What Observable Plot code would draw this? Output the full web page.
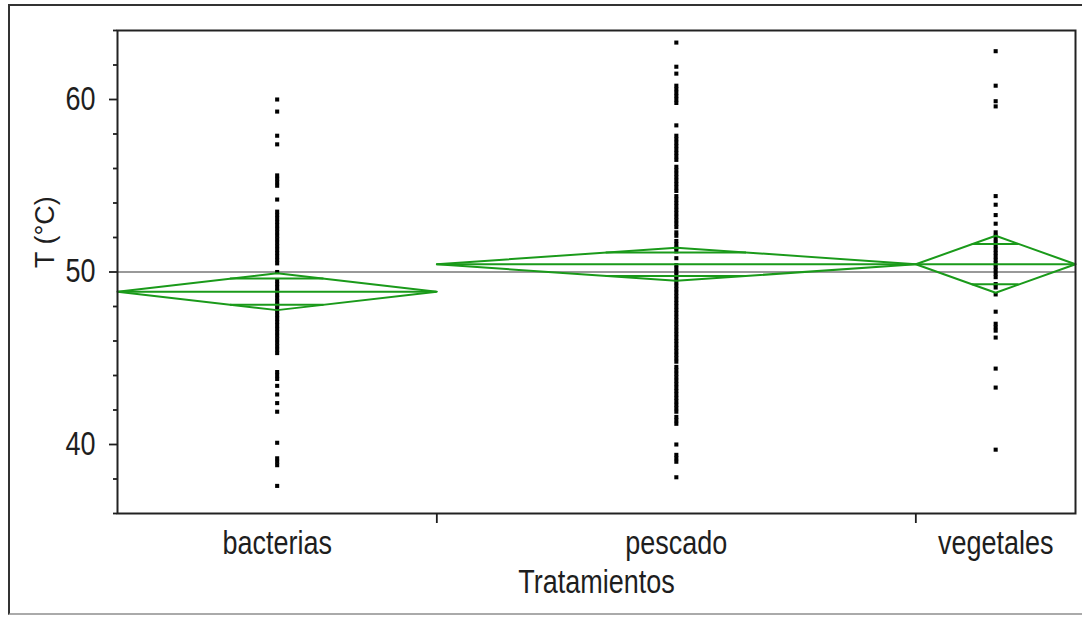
<!DOCTYPE html>
<html><head><meta charset="utf-8">
<script src="https://cdn.jsdelivr.net/npm/d3@7"></script>
<script src="https://cdn.jsdelivr.net/npm/@observablehq/plot@0.6"></script>
<style>
body{margin:0;background:#fff;}
#wrap{position:relative;width:1082px;height:618px;overflow:hidden;}
#border{position:absolute;left:8px;top:4px;width:1074px;height:611px;border-left:2px solid #333;border-top:2px solid #333;border-bottom:2px solid #aaa;box-sizing:border-box;pointer-events:none;}
#wrap svg{position:absolute;left:0;top:0;}
</style></head><body><div id="wrap"><div id="border"></div></div>
<script>
const categories = ["bacterias", "pescado", "vegetales"];
const sampleSize = [60, 90, 30];
const groupMean = [48.86, 50.45, 50.45];
const ciHalf = [1.07, 0.96, 1.65];
const grandMean = 50;
const yMajorTicks = [40, 50, 60];
const yMinorTicks = [36, 38, 42, 44, 46, 48, 52, 54, 56, 58, 62, 64];
const xLabel = "Tratamientos";
const yLabel = "T (°C)";

const bacterias = [60.0, 59.3, 57.9, 57.4, 55.6, 55.4, 55.2, 55.0, 54.2,
  53.5, 53.3, 53.1, 52.9, 52.7, 52.5, 52.3, 52.1, 51.9, 51.7, 51.5, 51.3, 51.1, 50.9, 50.7, 50.5,
  50.0,
  49.5, 49.3, 49.1, 48.9, 48.7, 48.5, 48.3, 48.1, 47.9, 47.7, 47.5, 47.3, 47.1, 46.9, 46.7, 46.5, 46.3, 46.1, 45.9, 45.7, 45.5, 45.3,
  44.2, 44.0, 43.8, 43.4, 42.9, 42.4, 41.9, 40.1, 39.2, 39.0, 38.8, 37.6];

const pescado = [63.3, 61.9, 61.5,
  60.8, 60.6, 60.4, 60.2, 60.0, 59.8,
  58.5,
  57.9, 57.7, 57.5, 57.3, 57.1, 56.9, 56.7, 56.5,
  56.1, 55.9, 55.7, 55.5, 55.3, 55.1, 54.9, 54.7,
  54.4, 54.2, 54.0, 53.8, 53.6, 53.4, 53.2, 53.0, 52.8, 52.6,
  52.3, 52.1,
  51.8, 51.6, 51.4, 51.2,
  50.8,
  50.4, 50.2, 50.0, 49.8, 49.6, 49.4, 49.2, 49.0, 48.8, 48.6, 48.4, 48.2, 48.0, 47.8, 47.6, 47.4, 47.2, 47.0, 46.8, 46.6, 46.4, 46.2, 46.0, 45.8, 45.6, 45.4, 45.2, 45.0, 44.8,
  44.5, 44.3, 44.1, 43.9,
  43.7, 43.5, 43.3, 43.1, 42.9,
  42.7, 42.5, 42.3, 42.1, 41.9,
  41.6, 41.4, 41.2,
  40.0,
  39.4, 39.2, 39.0,
  38.1];

const vegetales = [62.8, 60.8, 59.9, 59.6, 54.4, 53.9, 53.3, 52.8,
  52.3, 52.1, 51.9, 51.7, 51.5, 51.3, 51.1, 50.9, 50.7, 50.5, 50.3, 50.1, 49.9, 49.7,
  49.3, 49.1, 48.7, 47.7, 47.0, 46.8, 46.6, 46.2, 44.4, 43.3, 39.7];

const series = [bacterias, pescado, vegetales];

// group layout from sample sizes (JMP-style proportional widths)
let cum = 0;
const groups = categories.map((c, i) => {
  const x0 = cum; cum += sampleSize[i];
  return {c, x0, x1: cum, xc: (x0 + cum) / 2, m: groupMean[i], h: ciHalf[i]};
});
const total = cum;
const points = [];
series.forEach((arr, i) => arr.forEach(v => points.push({x: groups[i].xc, y: v})));
const diamonds = groups.flatMap(g => [
  {g: g.c, x: g.x0, y: g.m}, {g: g.c, x: g.xc, y: g.m + g.h}, {g: g.c, x: g.x1, y: g.m},
  {g: g.c, x: g.xc, y: g.m - g.h}, {g: g.c, x: g.x0, y: g.m}]);
const k = 1 - Math.SQRT1_2;
const segs = groups.flatMap(g => {
  const hw = (g.x1 - g.x0) / 2;
  return [
    {x1: g.x0, x2: g.x1, y: g.m},
    {x1: g.xc - k * hw, x2: g.xc + k * hw, y: g.m + g.h * Math.SQRT1_2},
    {x1: g.xc - k * hw, x2: g.xc + k * hw, y: g.m - g.h * Math.SQRT1_2}];
});
const green = "#1a9a1a";

const chart = Plot.plot({
  width: 1082, height: 618,
  marginLeft: 117, marginRight: 7, marginTop: 30, marginBottom: 105,
  x: {domain: [0, total], axis: null},
  y: {domain: [36, 64], axis: null},
  style: {fontFamily: "'Liberation Sans', Arial, sans-serif", fontSize: "27px", color: "#1e1e1e", background: "transparent", overflow: "visible"},
  marks: [
    Plot.ruleY([grandMean], {stroke: "#999", strokeWidth: 2}),
    Plot.dot(points, {x: "x", y: "y", symbol: "square", r: 2.3, fill: "#000"}),
    Plot.line(diamonds, {x: "x", y: "y", z: "g", stroke: green, strokeWidth: 2}),
    Plot.ruleY(segs, {x1: "x1", x2: "x2", y: "y", stroke: green, strokeWidth: 2}),
    Plot.frame({stroke: "#222", strokeWidth: 2}),
    Plot.axisY({ticks: yMajorTicks, tickSize: 8, tickPadding: 14, strokeWidth: 1.8, label: null, tickFormat: d => d}),
    Plot.axisY({ticks: yMinorTicks, tickSize: 4, strokeWidth: 1.8, label: null, tickFormat: () => ""}),
    Plot.axisX({ticks: groups.slice(0, -1).map(g => g.x1), tickSize: 10, strokeWidth: 1.8, label: null, tickFormat: () => ""}),
    Plot.text(groups, {x: "xc", text: "c", frameAnchor: "bottom", dy: 30, lineAnchor: "middle"}),
    Plot.text([xLabel], {frameAnchor: "bottom", dy: 69, lineAnchor: "middle"}),
    Plot.text([yLabel], {frameAnchor: "left", dx: -72, dy: -4, rotate: -90, lineAnchor: "middle"})
  ]
});

// vertical stretch of glyphs (reference text is tall/narrow)
chart.querySelectorAll("text").forEach(t => {
  let tr = t.getAttribute("transform") || "";
  if (/rotate/.test(tr)) return;
  const xa = t.getAttribute("x"), ya = t.getAttribute("y");
  let tx = 0, ty = 0;
  if (xa && /^-?[\d.]+$/.test(xa)) { tx = +xa; t.removeAttribute("x"); }
  if (ya && /^-?[\d.]+$/.test(ya)) { ty = +ya; t.removeAttribute("y"); }
  t.setAttribute("transform", (tr + ` translate(${tx},${ty}) scale(1,1.2)`).trim());
});

document.getElementById("wrap").appendChild(chart);
</script></body></html>
